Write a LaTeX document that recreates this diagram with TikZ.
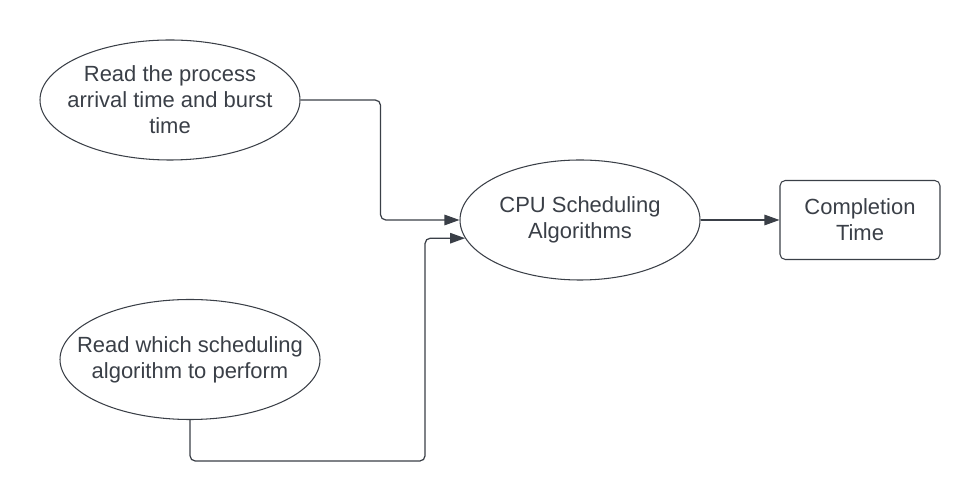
\documentclass[tikz,border=0pt]{standalone}
\usepackage{fontspec}
\setmainfont{Liberation Sans}
\usepackage{tikz}
\usetikzlibrary{positioning,shapes,arrows.meta,calc}
\definecolor{inkgray}{HTML}{3A3F47}

\begin{document}
\begin{tikzpicture}[
    every node/.style={text=inkgray, font=\fontsize{12.5}{14.8}\selectfont, align=center},
    oval/.style={draw=inkgray, ellipse, line width=0.6pt, minimum width=5.2cm, minimum height=2.4cm, inner sep=0pt},
    box/.style={draw=inkgray, rectangle, rounded corners=3pt, line width=0.6pt, minimum width=3.2cm, minimum height=1.58cm},
    flow/.style={draw=inkgray, line width=0.7pt, rounded corners=3pt, -{Triangle[length=0.3cm, width=0.21cm]}}
  ]
  \useasboundingbox (0,0) rectangle (19.6,10.02);
  \node[oval, inner xsep=-0.23cm] (readtime) at (3.4,8.02) {Read the process\\arrival time and burst\\time};
  \node[oval, inner xsep=-0.44cm] (readalg) at (3.8,2.83) {Read which scheduling\\algorithm to perform};
  \node[oval, minimum width=4.8cm] (cpu) at (11.6,5.62) {CPU Scheduling\\Algorithms};
  \node[box] (done) at (17.2,5.62) {Completion\\Time};
  \draw[flow] (readtime.east) -- ++(1.6,0) |- (cpu.west);
  \draw[flow] (readalg.south) -- ++(0,-0.82) -| ([xshift=-0.8cm]cpu.189) -- (cpu.189);
  \draw[flow] (cpu.east) -- (done.west);
\end{tikzpicture}
\end{document}
